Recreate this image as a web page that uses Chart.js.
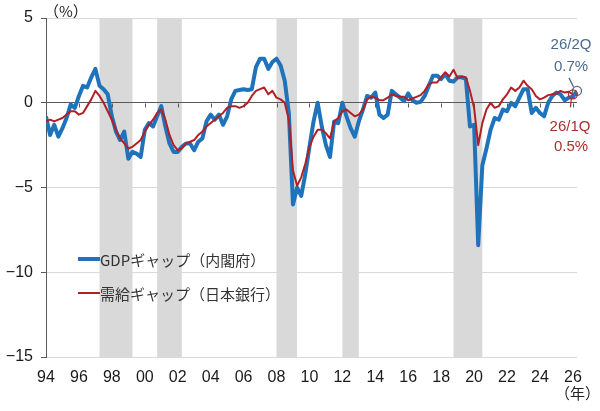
<!DOCTYPE html>
<html><head><meta charset="utf-8">
<style>html,body{margin:0;padding:0;background:#fff;}#wrap{width:600px;height:411px;}</style>
<script src="https://cdn.jsdelivr.net/npm/chart.js@4.4.1/dist/chart.umd.min.js"></script>
</head><body><div id="wrap"><canvas id="c" width="600" height="411"></canvas></div>
<script>
// ---- data ----
const startYear = 1994;            // first quarter = 1994Q1
const yearLabels = ['94','96','98','00','02','04','06','08','10','12','14','16','18','20','22','24','26'];
const gdpGap = [
 -0.8,-1.9,-1.3,-2.0,-1.5,-0.9,-0.1,-0.3,0.4,1.0,
 0.9,1.5,2.0,1.0,0.8,0.5,-0.8,-1.7,-2.2,-1.7,
 -3.3,-2.9,-3.0,-3.2,-1.6,-1.2,-1.4,-0.8,-0.2,-1.4,
 -2.4,-2.9,-2.9,-2.6,-2.4,-2.4,-2.8,-2.3,-2.1,-1.1,
 -0.7,-1.0,-0.7,-1.3,-0.8,0.2,0.7,0.75,0.8,0.75,
 0.8,2.1,2.6,2.6,2.0,2.4,2.6,2.2,1.3,-0.6,
 -6.0,-5.0,-5.5,-4.2,-2.6,-1.1,0.0,-1.4,-2.5,-3.2,
 -1.1,-1.2,0.0,-0.8,-1.5,-2.0,-1.1,-0.4,0.4,0.3,
 0.6,-0.7,-0.9,-0.7,0.7,0.5,0.3,0.1,0.55,0.15,
 0.0,0.05,0.4,1.0,1.6,1.6,1.4,1.7,1.3,1.25,
 1.5,1.5,1.4,-1.4,-1.3,-8.4,-3.7,-2.7,-1.6,-0.9,
 -1.0,-0.4,-0.5,0.0,-0.2,0.3,0.8,0.8,-0.6,-0.3,
 -0.6,-0.8,0.0,0.4,0.6,0.5,0.15,0.3,0.35,0.7
];
const bojGap = [
 -1.1,-1.0,-1.1,-1.0,-0.9,-0.7,-0.5,-0.5,-0.7,-0.6,
 -0.2,0.2,0.7,0.4,0.0,-0.5,-1.0,-1.6,-2.1,-2.4,
 -2.7,-2.6,-2.4,-2.2,-1.7,-1.3,-1.0,-0.6,-0.4,-1.0,
 -1.9,-2.5,-2.8,-2.7,-2.4,-2.3,-2.2,-1.9,-1.7,-1.4,
 -1.2,-1.0,-0.8,-0.6,-0.3,-0.2,-0.2,-0.3,-0.2,0.0,
 0.4,0.7,0.8,0.9,0.5,0.7,0.3,0.2,0.0,-1.0,
 -4.0,-4.9,-4.4,-3.6,-2.6,-2.0,-1.6,-1.6,-1.8,-2.1,
 -1.1,-0.9,-0.5,-0.4,-0.6,-0.8,-0.7,-0.4,0.2,0.35,
 0.3,0.15,0.15,0.3,0.5,0.4,0.35,0.35,0.15,0.25,
 0.35,0.45,0.7,1.1,1.2,1.2,1.5,1.8,1.55,1.95,
 1.45,1.55,1.5,0.7,-0.3,-2.5,-1.2,-0.4,0.0,-0.3,
 -0.2,0.2,0.5,0.9,0.7,0.9,1.3,1.0,0.8,0.4,
 0.2,0.3,0.45,0.5,0.55,0.7,0.6,0.65,0.5
];
// recession periods (first and last quarter, as year + quarter)
const recessionStart = ['1997Q2','2000Q4','2008Q1','2012Q1','2018Q4'];
const recessionEnd   = ['1999Q1','2002Q1','2009Q1','2012Q4','2020Q2'];
const seriesNames = ['GDPギャップ（内閣府）','需給ギャップ（日本銀行）'];
const lastNotes = [['26/2Q','0.7%'],['26/1Q','0.5%']];
const unitY = '（%）', unitX = '（年）';

// ---- helpers ----
function qIndex(s){ return (parseInt(s.slice(0,4))-startYear)*4 + parseInt(s.slice(5))-1; }
const gdpPts = gdpGap.map((v,i)=>({x:i,y:v}));
const bojPts = bojGap.map((v,i)=>({x:i,y:v}));

const BLUE='#1f73bb', RED='#b21f24', GRID='#d9d9d9', AXIS='#595959', BAND='#d9d9d9';
const NOTE_BLUE='#4b6b8c', NOTE_RED='#a8302c';
const tickFont = {family:"'Liberation Sans',Arial,sans-serif", size:16};
const jpFont = "'Noto Sans CJK JP','Noto Sans',sans-serif";

const decor = {
  id:'decor',
  beforeDraw(chart){
    const {ctx, chartArea:a, scales:{x}} = chart;
    ctx.save();
    ctx.fillStyle = BAND;
    recessionStart.forEach((s,i)=>{
      const x0 = x.getPixelForValue(qIndex(s));
      const x1 = x.getPixelForValue(qIndex(recessionEnd[i])+1);
      ctx.fillRect(x0, a.top, x1-x0, a.bottom-a.top);
    });
    ctx.restore();
  },
  beforeDatasetsDraw(chart){
    const {ctx, chartArea:a, scales:{x,y}} = chart;
    ctx.save();
    const y0 = Math.round(y.getPixelForValue(0))+0.5;
    ctx.strokeStyle = AXIS; ctx.lineWidth = 1;
    yearLabels.forEach((_,i)=>{
      const px = Math.round(x.getPixelForValue(i*8))+0.5;
      ctx.beginPath(); ctx.moveTo(px,y0); ctx.lineTo(px,y0+4); ctx.stroke();
    });
    ctx.fillStyle='#222';
    ctx.font = "15px "+jpFont;
    ctx.textBaseline='middle'; ctx.textAlign='left';
    ctx.fillText(unitY, a.left-2, 11);
    ctx.textAlign='right';
    ctx.fillText(unitX, 600, 393);
    const lx = a.left+32, ly=[259,293];
    [[BLUE,4],[RED,2]].forEach(([c,w],i)=>{
      ctx.strokeStyle=c; ctx.lineWidth=w; ctx.lineCap='butt';
      ctx.beginPath(); ctx.moveTo(lx,ly[i]); ctx.lineTo(lx+22,ly[i]); ctx.stroke();
      ctx.fillStyle='#333'; ctx.textAlign='left'; ctx.font="15px "+jpFont;
      ctx.fillText(seriesNames[i], lx+22, ly[i]+1);
    });
    ctx.restore();
  },
  afterDatasetsDraw(chart){
    const {ctx, scales:{x,y}} = chart;
    ctx.save();
    const bi = gdpGap.length-1, ri = bojGap.length-1;
    const bx = x.getPixelForValue(bi), by = y.getPixelForValue(gdpGap[bi]);
    const rx = x.getPixelForValue(ri), ry = y.getPixelForValue(bojGap[ri]);
    ctx.lineWidth=1.3;
    ctx.strokeStyle=NOTE_BLUE;
    ctx.beginPath(); ctx.arc(bx,by,4.5,0,Math.PI*2); ctx.stroke();
    ctx.beginPath(); ctx.moveTo(bx-3.5,by-4); ctx.lineTo(bx-8,by-13); ctx.stroke();
    ctx.strokeStyle=NOTE_RED;
    ctx.beginPath(); ctx.arc(rx,ry,4.5,0,Math.PI*2); ctx.stroke();
    ctx.beginPath(); ctx.moveTo(rx-1.5,ry+4.5); ctx.lineTo(rx-2.5,ry+13); ctx.stroke();
    ctx.font="15px 'Liberation Sans',Arial,sans-serif";
    ctx.textAlign='center'; ctx.textBaseline='middle';
    ctx.fillStyle=NOTE_BLUE;
    ctx.fillText(lastNotes[0][0], 571, by-46);
    ctx.fillText(lastNotes[0][1], 571, by-24);
    ctx.fillStyle=NOTE_RED;
    ctx.fillText(lastNotes[1][0], 570, ry+33);
    ctx.fillText(lastNotes[1][1], 571, ry+53);
    ctx.restore();
  }
};

new Chart(document.getElementById('c'), {
  type:'line',
  data:{datasets:[
    {label:seriesNames[1], data:bojPts, borderColor:RED, borderWidth:2, pointRadius:0, tension:0, order:0, borderJoinStyle:'round'},
    {label:seriesNames[0], data:gdpPts, borderColor:BLUE, borderWidth:4, pointRadius:0, tension:0, order:1, borderJoinStyle:'round'}
  ]},
  options:{
    responsive:false, animation:false, devicePixelRatio:1,
    layout:{padding:{top:18,right:23,left:0,bottom:0}},
    plugins:{legend:{display:false}, tooltip:{enabled:false}},
    scales:{
      x:{type:'linear', min:0, max:gdpGap.length-1,
        grid:{display:false, drawTicks:false}, border:{display:false},
        afterBuildTicks(s){ s.ticks = yearLabels.map((_,i)=>({value:i*8})); },
        afterFit(s){ s.height = 54; },
        ticks:{autoSkip:false, maxRotation:0, padding:11, color:'#1a1a1a', font:tickFont,
          callback:(v)=> yearLabels[Math.round(v/8)] }
      },
      y:{min:-15, max:5,
        afterFit(s){ s.width = 46; },
        afterBuildTicks(s){ s.ticks=[5,0,-5,-10,-15].map(v=>({value:v})); },
        grid:{color:(c)=> c.tick && c.tick.value===0 ? AXIS : GRID, tickColor:AXIS, tickLength:5, lineWidth:1},
        border:{display:true, color:AXIS, width:1},
        ticks:{padding:8, color:'#1a1a1a', font:tickFont,
          callback:(v)=> v<0 ? '\u2212'+Math.abs(v) : String(v)}
      }
    }
  },
  plugins:[decor]
});
</script>
</body></html>
